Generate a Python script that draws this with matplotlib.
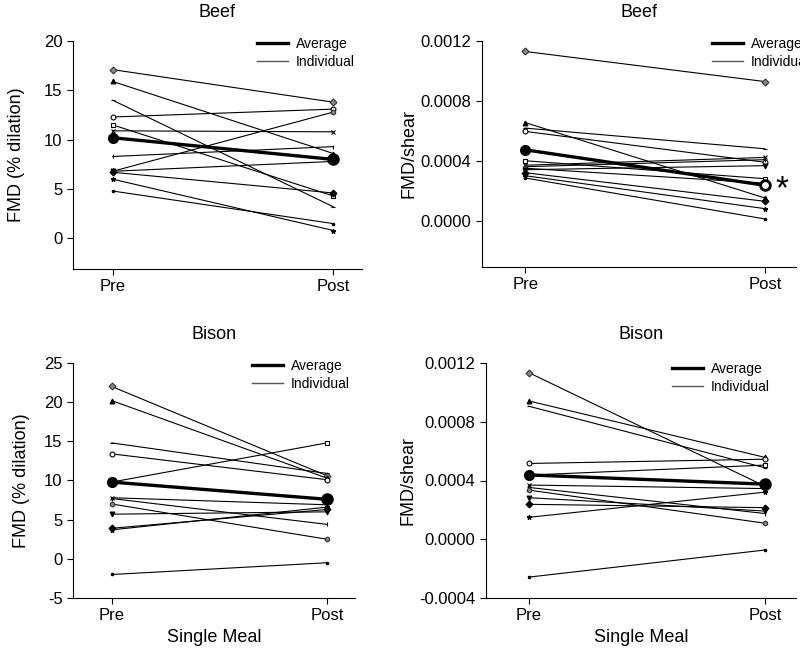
import matplotlib.pyplot as plt
from matplotlib.lines import Line2D

plt.rcParams["font.family"] = ["Liberation Sans", "DejaVu Sans"]

timepoints = ["Pre", "Post"]

# one entry per subject (same order in pre / post)
beef_fmd_pre = [17.1, 15.9, 14.0, 12.3, 11.5, 10.9, 8.3, 6.8, 6.8, 6.7, 6.0, 4.8]
beef_fmd_post = [13.8, 8.6, 3.2, 13.1, 4.3, 10.8, 9.3, 12.8, 7.8, 4.6, 0.8, 1.5]
beef_fmd_avg = [10.2, 8.0]

beef_shear_pre = [0.00113, 0.000655, 0.000618, 0.000596, 0.000400, 0.000370,
                  0.000360, 0.000350, 0.000340, 0.000320, 0.000300, 0.000285]
beef_shear_post = [0.000929, 0.000151, 0.000480, 0.000390, 0.000280, 0.000422,
                   0.000407, 0.000250, 0.000367, 0.000129, 0.000080, 0.000011]
beef_shear_avg = [0.000473, 0.000236]

bison_fmd_pre = [22.0, 20.2, 14.8, 13.4, 9.8, 7.8, 7.7, 7.0, 5.7, 3.9, 3.7, -2.0]
bison_fmd_post = [10.6, 10.3, 10.9, 10.1, 14.8, 6.9, 4.4, 2.5, 6.0, 6.3, 6.6, -0.5]
bison_fmd_avg = [9.8, 7.6]

bison_shear_pre = [0.001135, 0.000942, 0.000906, 0.000516, 0.000437, 0.000369,
                   0.000353, 0.000335, 0.000283, 0.000238, 0.000149, -0.000258]
bison_shear_post = [0.000360, 0.000557, 0.000486, 0.000545, 0.000505, 0.000345,
                    0.000175, 0.000109, 0.000192, 0.000215, 0.000321, -0.000073]
bison_shear_avg = [0.000438, 0.000375]

subject_markers = ["D", "^", "_", "o", "s", "x", "|", "h", "v", "D", "*", "."]
subject_faces = ["#888888", "k", "k", "white", "white", "k", "k", "#888888",
                 "k", "k", "k", "k"]


def draw_panel(ax, pre, post, avg, avg_post_face, title, ylim, yticks, fmt):
    for i, (a, b) in enumerate(zip(pre, post)):
        ax.plot([0, 1], [a, b], color="k", lw=0.8,
                marker=subject_markers[i], ms=3.5, mfc=subject_faces[i],
                mec="#333333" if subject_faces[i] == "#888888" else "k", mew=0.8)
    ax.plot([0, 1], avg, color="k", lw=2.4, zorder=5)
    ax.plot([0], avg[:1], "o", color="k", ms=7, zorder=6)
    ax.plot([1], avg[1:], "o", mfc=avg_post_face, mec="k", mew=2, ms=7, zorder=6)
    ax.set_xlim(-0.18, 1.13)
    ax.set_ylim(*ylim)
    ax.set_xticks([0, 1])
    ax.set_xticklabels(timepoints, fontsize=12)
    ax.set_yticks(yticks)
    ax.set_yticklabels([fmt.format(v) for v in yticks], fontsize=12)
    ax.spines["top"].set_visible(False)
    ax.spines["right"].set_visible(False)
    ax.tick_params(direction="out", length=4, width=0.8)
    ax.set_title(title, fontsize=13, pad=17)


def add_legend(ax, fig, x, y):
    handles = [Line2D([], [], color="k", lw=2.4), Line2D([], [], color="#555555", lw=1.0)]
    ax.legend(handles, ["Average", "Individual"], loc="upper left",
              bbox_to_anchor=(x / 800, 1 - y / 651), bbox_transform=fig.transFigure,
              frameon=False, fontsize=10, handlelength=2.2, handletextpad=0.6,
              labelspacing=0.3, borderaxespad=0, borderpad=0)


fig = plt.figure(figsize=(8, 6.51), dpi=100)


def axes_at(left, top, right, bottom):
    return fig.add_axes([left / 800, 1 - bottom / 651, (right - left) / 800, (bottom - top) / 651])


ax1 = axes_at(73, 41, 362, 269)
draw_panel(ax1, beef_fmd_pre, beef_fmd_post, beef_fmd_avg, "k", "Beef",
           (-3.1, 20), [0, 5, 10, 15, 20], "{:g}")
ax1.set_ylabel("FMD (% dilation)", fontsize=13, labelpad=14)
add_legend(ax1, fig, 257, 37)

ax2 = axes_at(482, 41, 796, 267)
draw_panel(ax2, beef_shear_pre, beef_shear_post, beef_shear_avg, "white", "Beef",
           (-0.00031, 0.0012), [0.0, 0.0004, 0.0008, 0.0012], "{:.4f}")
ax2.set_ylabel("FMD/shear", fontsize=13, labelpad=2)
add_legend(ax2, fig, 712, 37)
ax2.text(782 / 800, 1 - 190 / 651, "*", transform=fig.transFigure, fontsize=24,
         ha="center", va="center")

ax3 = axes_at(73, 363, 355, 598)
draw_panel(ax3, bison_fmd_pre, bison_fmd_post, bison_fmd_avg, "k", "Bison",
           (-5, 25), [-5, 0, 5, 10, 15, 20, 25], "{:g}")
ax3.set_ylabel("FMD (% dilation)", fontsize=13, labelpad=10)
ax3.set_xlabel("Single Meal", fontsize=13)
add_legend(ax3, fig, 252, 359)

ax4 = axes_at(486, 363, 796, 598)
draw_panel(ax4, bison_shear_pre, bison_shear_post, bison_shear_avg, "k", "Bison",
           (-0.0004, 0.0012), [-0.0004, 0.0, 0.0004, 0.0008, 0.0012], "{:.4f}")
ax4.set_ylabel("FMD/shear", fontsize=13, labelpad=2)
ax4.set_xlabel("Single Meal", fontsize=13)
add_legend(ax4, fig, 672, 362)

fig.savefig("out.png", dpi=100, facecolor="white")
